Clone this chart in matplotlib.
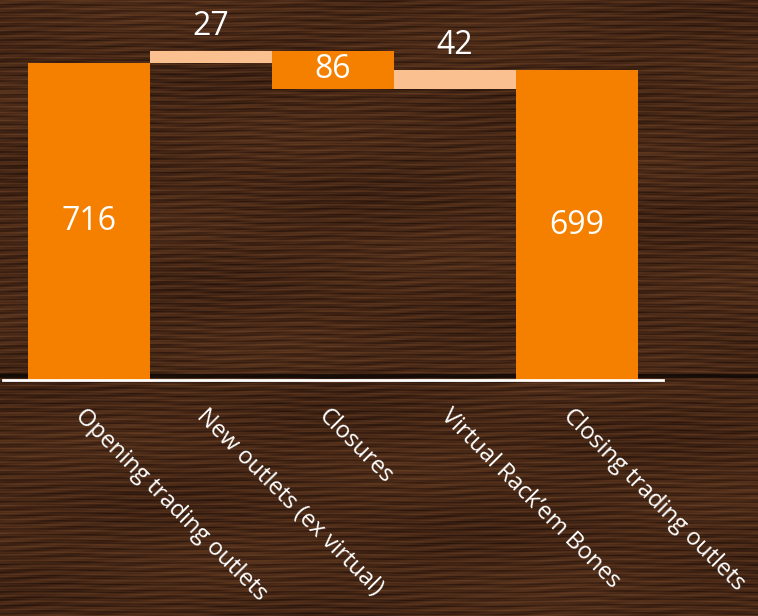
import numpy as np
import matplotlib
matplotlib.use("Agg")
import matplotlib.pyplot as plt
from matplotlib.colors import LinearSegmentedColormap
import matplotlib.transforms as mtransforms

categories = ["Opening trading outlets", "New outlets (ex virtual)", "Closures",
              "Virtual Rack\u2019em Bones", "Closing trading outlets"]
changes = [716, 27, -86, 42, 699]
kinds = ["total", "up", "down", "up", "total"]

ORANGE = "#F58000"
PEACH = "#FAC090"

plt.rcParams['font.family'] = ['Open Sans', 'DejaVu Sans']

W, H, DPI = 758, 616, 100
fig = plt.figure(figsize=(W / DPI, H / DPI), dpi=DPI)

# wood-like background (deterministic pattern)
bg = fig.add_axes([0, 0, 1, 1])
bg.set_axis_off()
yy, xx = np.mgrid[0:H, 0:W].astype(float)
grain = (0.5
         + 0.10 * np.sin(yy * 0.9 + 1.2 * np.sin(xx * 0.013) + 0.8 * np.sin(xx * 0.047 + yy * 0.02))
         + 0.07 * np.sin(yy * 2.3 + 2.0 * np.sin(xx * 0.021 + 1.0) + xx * 0.003)
         + 0.05 * np.sin(yy * 0.045 + xx * 0.006) * np.sin(xx * 0.011 - yy * 0.013)
         + 0.04 * np.sin(xx * 0.09 + yy * 0.7))
grain = (grain - grain.min()) / (grain.max() - grain.min())
wood = LinearSegmentedColormap.from_list("wood", ["#24120a", "#3e2213", "#56321c", "#6b4226"])
bg.imshow(grain, cmap=wood, aspect="auto", extent=[0, 1, 0, 1], vmin=0, vmax=1.1)
# plank seam
bg.plot([0, 1], [1 - 376 / H, 1 - 376 / H], color="#0d0704", lw=3, alpha=0.8)
bg.set_xlim(0, 1)
bg.set_ylim(0, 1)

ax = fig.add_axes([3 / W, 1 - 380 / H, 660 / W, 380 / H])
ax.patch.set_alpha(0)

# compute waterfall geometry
bottoms, heights, colors = [], [], []
running = 0
for c, k in zip(changes, kinds):
    if k == "total":
        bottoms.append(0); heights.append(c); colors.append(ORANGE); running = c
    elif k == "up":
        bottoms.append(running); heights.append(c); colors.append(PEACH); running += c
    else:
        bottoms.append(running + c); heights.append(-c); colors.append(ORANGE); running += c

x = np.arange(len(categories))
ax.bar(x, heights, bottom=bottoms, width=1.0, color=colors, linewidth=0)

for i, (b, h, k, c) in enumerate(zip(bottoms, heights, kinds, changes)):
    if k == "up":
        ax.annotate(f"{abs(c)}", (i, b + h), xytext=(0, 6), textcoords="offset points",
                    ha="center", va="bottom", color="white", fontsize=23)
    else:
        ax.text(i, b + h / 2, f"{abs(c)}", ha="center", va="center", color="white", fontsize=23)

ax.set_xlim(-0.705, 4.705)
ax.set_ylim(0, 858)
for s in ["top", "right", "left"]:
    ax.spines[s].set_visible(False)
ax.spines["bottom"].set_color("white")
ax.spines["bottom"].set_linewidth(2)
ax.set_yticks([])
ax.set_xticks([])

off = mtransforms.offset_copy(ax.transData, fig=fig, x=0, y=-24 * 72 / DPI, units="points")
for i, lab in enumerate(categories):
    ax.text(i - 0.02, 0, lab, transform=off, rotation=-45, rotation_mode="anchor",
            ha="left", va="top", color="white", fontsize=17, clip_on=False)

fig.savefig("out.png", dpi=DPI)
